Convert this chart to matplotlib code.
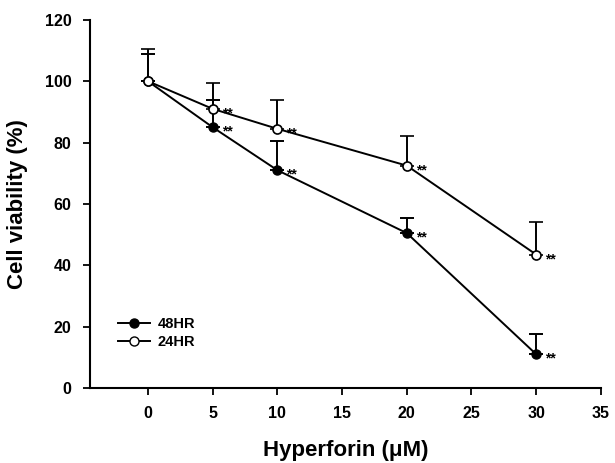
import matplotlib as mpl
mpl.use('Agg')
import matplotlib.pyplot as plt
from matplotlib.lines import Line2D
import numpy as np

plt.rcParams['font.family'] = ['Liberation Sans', 'DejaVu Sans']
plt.rcParams['font.weight'] = 'bold'

# data
dose = [0, 5, 10, 20, 30]
v48 = [100, 85, 71, 50.5, 11]
e48 = [9, 9, 9.5, 5, 6.5]
v24 = [100, 91, 84.5, 72.5, 43.5]
e24 = [10.5, 8.5, 9.5, 9.5, 10.5]
stars = [False, True, True, True, True]

fig = plt.figure(figsize=(6.15, 4.63), dpi=100)
ax = fig.add_axes([0.146, 0.162, 0.831, 0.795])

lw = 1.4
ax.errorbar(dose, v48, yerr=[np.zeros(len(e48)), e48], color='black', lw=lw,
            marker='o', ms=6.5, mfc='black', mec='black', capsize=5, capthick=lw,
            elinewidth=lw, zorder=3)
ax.errorbar(dose, v24, yerr=[np.zeros(len(e24)), e24], color='black', lw=lw,
            marker='o', ms=6.5, mfc='white', mec='black', mew=1.2, capsize=5,
            capthick=lw, elinewidth=lw, zorder=4)

for x, a, b, s in zip(dose, v48, v24, stars):
    if s:
        ax.text(x + 0.7, a - 1.5, '**', fontsize=10, va='center', ha='left')
        ax.text(x + 0.7, b - 1.5, '**', fontsize=10, va='center', ha='left')

ax.set_xlim(-4.5, 35)
ax.set_ylim(0, 120)
ax.set_xticks([0, 5, 10, 15, 20, 25, 30, 35])
ax.set_yticks([0, 20, 40, 60, 80, 100, 120])
ax.spines['top'].set_visible(False)
ax.spines['right'].set_visible(False)
ax.spines['left'].set_linewidth(1.5)
ax.spines['bottom'].set_linewidth(1.5)
ax.tick_params(direction='out', length=5, width=1.3, labelsize=11.5, pad=8)

ax.set_xlabel('Hyperforin (μM)', fontsize=16, fontweight='bold', labelpad=14)
ax.set_ylabel('Cell viability (%)', fontsize=16, fontweight='bold', labelpad=12)

handles = [
    Line2D([], [], color='black', lw=lw, marker='o', ms=6.5, mfc='black', mec='black'),
    Line2D([], [], color='black', lw=lw, marker='o', ms=6.5, mfc='white', mec='black'),
]
ax.legend(handles, ['48HR', '24HR'], loc='lower left', bbox_to_anchor=(0.03, 0.07),
          frameon=False, fontsize=10.5, handlelength=2.2, handletextpad=0.5,
          labelspacing=0.3)

fig.savefig('out.png', dpi=100)
